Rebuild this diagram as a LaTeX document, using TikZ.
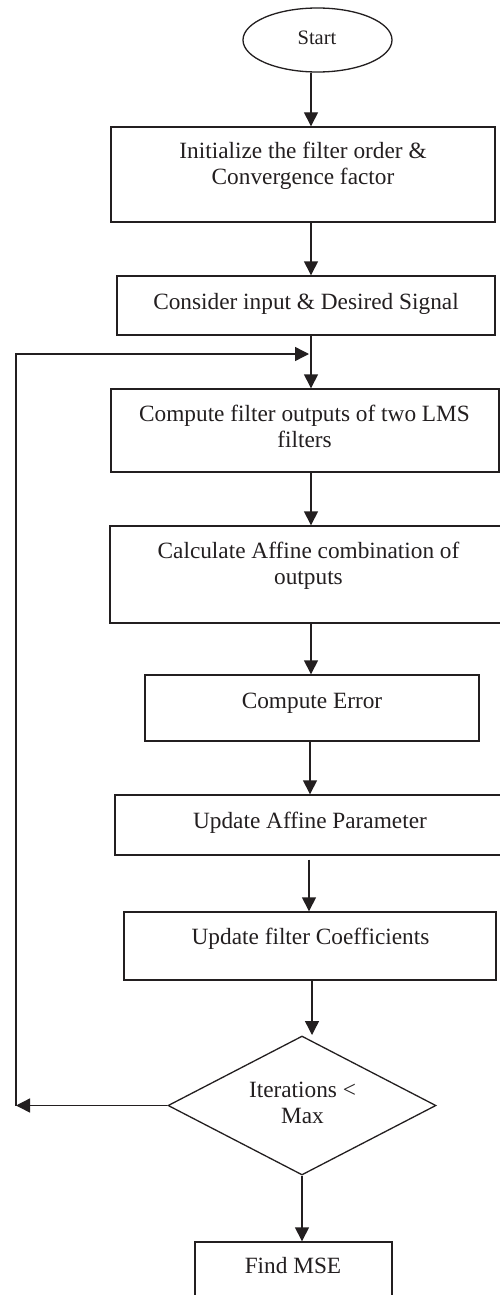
\documentclass[tikz,border=0pt]{standalone}
\usepackage{fontspec}
\setmainfont{Liberation Serif}
\usetikzlibrary{shapes.geometric,arrows.meta}
\definecolor{ink}{RGB}{35,31,32}
\tikzset{
  x=1pt, y=-1pt,
  stepbox/.style={draw=ink, line width=1.4pt, rectangle, inner sep=0pt},
  decision/.style={draw=ink, line width=1.3pt, diamond, inner sep=0pt},
  terminal/.style={draw=ink, line width=1.3pt, ellipse, inner sep=0pt},
  lbl/.style={inner sep=0pt, anchor=base, text=ink,
              font=\fontsize{23.3}{26.5}\selectfont},
  flow/.style={draw=ink, line width=1.4pt, -{Triangle[length=14pt,width=14pt]}},
}
\newcommand{\lines}[1]{\begin{tabular}[t]{@{}c@{}}#1\end{tabular}}
\begin{document}
\begin{tikzpicture}
\useasboundingbox (0,0) rectangle (500,1295);
\clip (0,0) rectangle (500,1295);
\fill[white] (0,0) rectangle (500,1295);

% terminal and process boxes
\node[terminal, minimum width=149pt, minimum height=64pt] (start) at (317.5,40) {};
\node[lbl, font=\fontsize{20.5}{24}\selectfont] (startT) at (317,45) {Start};

\node[stepbox, minimum width=384pt, minimum height=95pt] (init) at (303,174.5) {};
\node[lbl] (initT) at (303,158) {\lines{Initialize the filter order \&\\Convergence factor}};

\node[stepbox, minimum width=378pt, minimum height=59pt] (cons) at (306,305.5) {};
\node[lbl] (consT) at (306,309) {Consider input \& Desired Signal};

\node[stepbox, minimum width=388pt, minimum height=83pt] (comp) at (305,430.5) {};
\node[lbl] (compT) at (304.5,421) {\lines{Compute filter outputs of two LMS\\filters}};

\node[stepbox, minimum width=397pt, minimum height=97pt] (aff) at (308.5,574.5) {};
\node[lbl] (affT) at (308.5,558) {\lines{Calculate Affine combination of\\outputs}};

\node[stepbox, minimum width=334pt, minimum height=66pt] (err) at (312,708) {};
\node[lbl] (errT) at (312,708) {Compute Error};

\node[stepbox, minimum width=390pt, minimum height=60pt] (upa) at (310,825) {};
\node[lbl] (upaT) at (310,828) {Update Affine Parameter};

\node[stepbox, minimum width=372pt, minimum height=68pt] (upc) at (310,946) {};
\node[lbl] (upcT) at (310.5,944) {Update filter Coefficients};

\node[decision, minimum width=268pt, minimum height=139pt, aspect=1.93] (iter) at (302,1105.5) {};
\node[lbl] (iterT) at (302.5,1097) {\lines{Iterations <\\Max}};

\node[stepbox, minimum width=197pt, minimum height=68pt] (mse) at (293.5,1276) {};
\node[lbl] (mseT) at (293,1273) {Find MSE};

% connectors
\coordinate (join) at (311,354);
\coordinate (cornerB) at (16,1106);
\coordinate (cornerT) at (16,354);

\draw[flow] (start.south -| 311,0) -- (init.north -| 311,0);
\draw[flow] (init.south -| 311,0) -- (cons.north -| 311,0);
\draw[flow] (cons.south -| 311,0) -- (comp.north -| 311,0);
\draw[flow] (comp.south -| 311,0) -- (aff.north -| 311,0);
\draw[flow] (aff.south -| 311,0) -- (err.north -| 311,0);
\draw[flow] (err.south -| 310,0) -- (upa.north -| 310,0);
\draw[flow, shorten <=4pt] (upa.south -| 309,0) -- (upc.north -| 309,0);
\draw[flow] (upc.south -| 312,0) -- (312,1035);
\draw[flow] (iter.south) -- (mse.north -| iter.south);

% loop back for the next iteration
\draw[flow] (iter.west) -- (iter.west -| cornerB);
\draw[flow] (iter.west -| cornerB) -- (cornerT) -- ([xshift=-2pt]join);
\end{tikzpicture}
\end{document}
